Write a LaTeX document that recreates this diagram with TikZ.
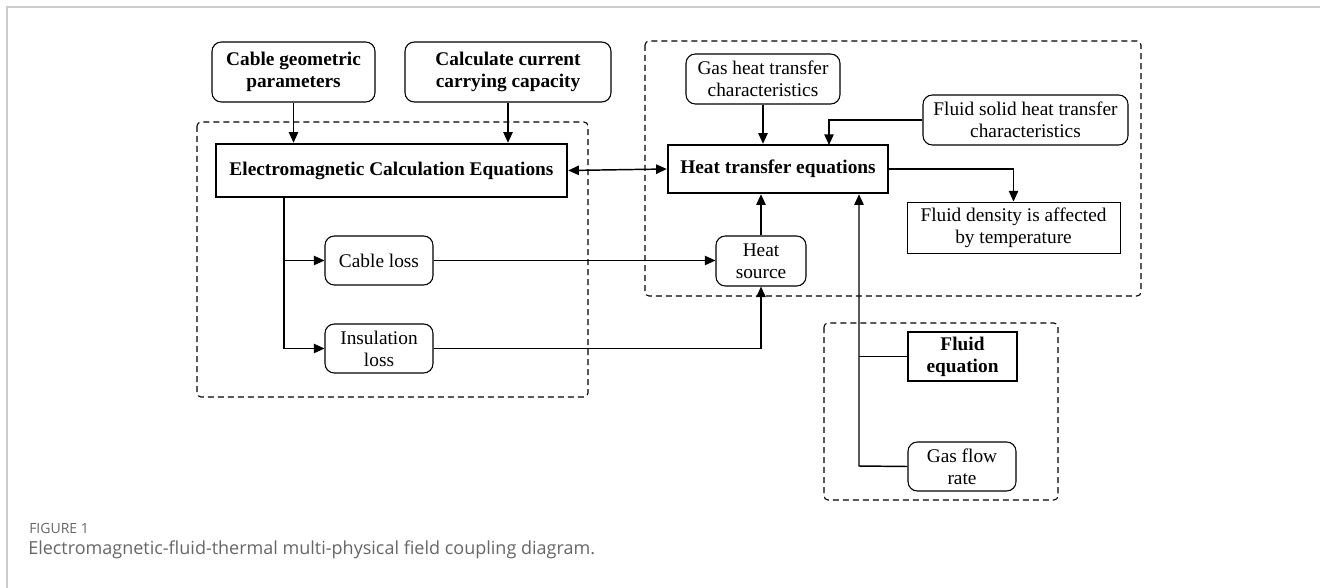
\documentclass[tikz,border=0pt]{standalone}
\usepackage{fontspec}
\setmainfont{Liberation Serif}
\newfontfamily\capfont{Open Sans}
\usetikzlibrary{arrows.meta,fit,calc}
\definecolor{capgray}{HTML}{666666}
\definecolor{framegray}{HTML}{CCCCCC}
\begin{document}
\begin{tikzpicture}[x=0.75pt,y=-0.75pt,
  every node/.style={font=\fontsize{14.5}{16.5}\selectfont, align=center, inner sep=0pt},
  rbox/.style={draw, line width=0.8pt, rounded corners=7pt},
  sbox/.style={draw, line width=0.7pt},
  tbox/.style={draw, line width=1.8pt},
  bfont/.style={font=\fontsize{14.5}{16.5}\selectfont\bfseries},
  conn/.style={line width=1.1pt},
  arr/.style={conn, -{Triangle[length=8pt,width=7pt]}},
  darr/.style={conn, {Triangle[length=8pt,width=7pt]}-{Triangle[length=8pt,width=7pt]}},
  dbox/.style={draw, line width=0.8pt, dash pattern=on 4.5pt off 3pt, rounded corners=3pt}
]
\useasboundingbox (0,0) rectangle (1320,588);
% frame
\draw[framegray, line width=1.1pt] (7,588) -- (7,7) -- (1320,7);
% dashed groups
\draw[dbox] (197,122) rectangle (588,397);
\draw[dbox] (645,41) rectangle (1141,296);
\draw[dbox] (824,323) rectangle (1058,500);
% nodes
\node[rbox, bfont, fit={(212,42)(375,102)}] (cg) {};
\node[bfont] at (cg.center) {Cable geometric\\parameters};
\node[rbox, bfont, fit={(405,42)(611,102)}] (cc) {};
\node[bfont] at (cc.center) {Calculate current\\carrying capacity};
\node[tbox, fit={(216,144)(567,197)}] (em) {};
\node[bfont] at (em.center) {Electromagnetic Calculation Equations};
\node[rbox, fit={(325,236)(433,285)}] (cl) {};
\node at (cl.center) {Cable loss};
\node[rbox, fit={(325,324)(433,373)}] (il) {};
\node at (il.center) {Insulation\\loss};
\node[tbox, fit={(668,145)(888,193)}] (ht) {};
\node[bfont] at (ht.center) {Heat transfer equations};
\node[rbox, fit={(686,54)(840,104)}] (gh) {};
\node at (gh.center) {Gas heat transfer\\characteristics};
\node[rbox, fit={(923,95)(1128,145)}] (fs) {};
\node at (fs.center) {Fluid solid heat transfer\\characteristics};
\node[sbox, fit={(907,202)(1120,253)}] (fd) {};
\node at (fd.center) {Fluid density is affected\\by temperature};
\node[rbox, fit={(716,236)(806,286)}] (hs) {};
\node at (hs.center) {Heat\\source};
\node[tbox, fit={(908,332)(1017,381)}] (fe) {};
\node[bfont] at (fe.center) {Fluid\\equation};
\node[rbox, fit={(908,442)(1016,491)}] (gf) {};
\node at (gf.center) {Gas flow\\rate};
% coordinates
\coordinate (eb) at (284,197);
\coordinate (ht2) at (829,145);
\coordinate (jx) at (859,466);
% connectors
\draw[arr] (cg.south) -- (cg.south |- em.north);
\draw[arr] (cc.south) -- (cc.south |- em.north);
\draw[darr] (em.east) -- (ht.west);
\draw[arr] (eb) |- (cl.west);
\draw[arr] (eb) |- (il.west);
\draw[arr] (cl.east) -- (cl.east -| hs.west);
\draw[arr] (il.east) -| (hs.south);
\draw[arr] (hs.north) -- (hs.north |- ht.south);
\draw[arr] (gh.south) -- (gh.south |- ht.north);
\draw[arr] (fs.west) -| (ht2);
\draw[arr] (ht.east) -| (fd.north);
\draw[arr] (gf.west) -- (jx) -- (jx |- ht.south);
\draw[conn] (fe.west) -- (fe.west -| jx);
% caption
\node[anchor=base west, font=\capfont\fontsize{10.5}{12}\selectfont, text=capgray] (fig) at (29,533) {FIGURE 1};
\node[anchor=base west, font=\capfont\fontsize{13.5}{15}\selectfont, text=capgray] (cap) at (28,554) {Electromagnetic-fluid-thermal multi-physical field coupling diagram.};
\end{tikzpicture}
\end{document}
